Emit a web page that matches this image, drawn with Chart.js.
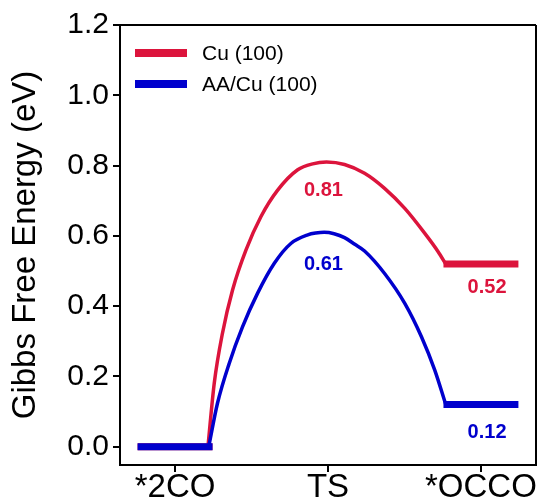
<!DOCTYPE html>
<html>
<head>
<meta charset="utf-8">
<script src="https://cdn.jsdelivr.net/npm/chart.js@4/dist/chart.umd.min.js"></script>
<style>
html,body{margin:0;padding:0;background:#fff;}
#wrap{position:relative;width:543px;height:503px;}
</style>
</head>
<body>
<div id="wrap"><canvas id="c" width="543" height="503"></canvas></div>
<script>
// ---- data ----
const states = ['*2CO', 'TS', '*OCCO'];
const seriesNames = ['Cu (100)', 'AA/Cu (100)'];
const seriesColors = ['#DC143C', '#0000CD'];
const cuLevels = [0, 0.81, 0.52];
const aaLevels = [0, 0.61, 0.12];
// reaction path (x in state units, y in eV)
const cuPathX = [0.215, 0.256, 0.31, 0.376, 0.464, 0.562, 0.671, 0.802, 0.90, 0.99, 1.108, 1.239, 1.37, 1.502, 1.633, 1.72, 1.77];
const cuPathY = [0.00, 0.18, 0.323, 0.446, 0.56, 0.655, 0.73, 0.788, 0.805, 0.81, 0.803, 0.778, 0.735, 0.678, 0.607, 0.555, 0.52];
const aaPathX = [0.22, 0.277, 0.354, 0.441, 0.54, 0.649, 0.759, 0.868, 0.92, 0.975, 1.04, 1.108, 1.175, 1.239, 1.37, 1.502, 1.611, 1.698, 1.77];
const aaPathY = [0.00, 0.123, 0.237, 0.341, 0.437, 0.522, 0.579, 0.603, 0.608, 0.61, 0.606, 0.595, 0.576, 0.557, 0.493, 0.408, 0.313, 0.218, 0.12];
const yTicks = [0.0, 0.2, 0.4, 0.6, 0.8, 1.0, 1.2];
const X_MIN = -0.36, X_MAX = 2.36, Y_MIN = -0.052, Y_MAX = 1.2;
const levelHalf = 0.245;

function pts(xs, ys){ return xs.map((x,i)=>({x:x, y:ys[i]})); }
function levelPts(levels, idx){ return [{x:idx-levelHalf, y:levels[idx]},{x:idx+levelHalf, y:levels[idx]}]; }

const datasets = [];
// blue series listed first so that it is painted on top (Chart.js paints dataset 0 last)
[[aaLevels, aaPathX, aaPathY, 1],[cuLevels, cuPathX, cuPathY, 0]].forEach(([lv, px, py, s])=>{
  datasets.push({data: levelPts(lv,0), borderColor: seriesColors[s], borderWidth: 7, pointRadius: 0, tension: 0, borderCapStyle:'butt'});
  datasets.push({data: levelPts(lv,2), borderColor: seriesColors[s], borderWidth: 7, pointRadius: 0, tension: 0, borderCapStyle:'butt'});
  datasets.push({data: pts(px,py), borderColor: seriesColors[s], borderWidth: 3.5, pointRadius: 0, cubicInterpolationMode: 'monotone'});
});

const FONT = "'Liberation Sans', Arial, Helvetica, sans-serif";

const decor = {
  id: 'decor',
  afterDraw(chart){
    const ctx = chart.ctx;
    const xs = chart.scales.x, ys = chart.scales.y;
    ctx.save();
    // legend
    ctx.font = "21px " + FONT; ctx.textBaseline = 'middle'; ctx.textAlign = 'left';
    seriesNames.forEach((n,i)=>{
      const y = 53 + i*31;
      ctx.fillStyle = seriesColors[i];
      ctx.fillRect(135, y-4, 52, 8);
      ctx.fillStyle = '#000';
      ctx.fillText(n, 202, y+1);
    });
    // value labels
    ctx.font = "bold 20px " + FONT; ctx.textAlign = 'center';
    const offTS = [28, 32], offEnd = [24, 28];
    [[cuLevels,0],[aaLevels,1]].forEach(([lv,s])=>{
      ctx.fillStyle = seriesColors[s];
      ctx.fillText(lv[1].toFixed(2), xs.getPixelForValue(0.97), ys.getPixelForValue(lv[1]) + offTS[s]);
      ctx.fillText(lv[2].toFixed(2), xs.getPixelForValue(2.04), ys.getPixelForValue(lv[2]) + offEnd[s]);
    });
    ctx.restore();
  }
};

new Chart(document.getElementById('c'), {
  type: 'line',
  data: { datasets },
  options: {
    responsive: false,
    animation: false,
    layout: { padding: { top: 25, right: 7, left: 0, bottom: 0 } },
    plugins: { legend: { display: false }, tooltip: { enabled: false } },
    scales: {
      x: {
        type: 'linear', min: X_MIN, max: X_MAX,
        // category ticks plus one extra tick at the right edge whose grid line forms the right frame
        afterBuildTicks: s => { s.ticks = states.map((_,i)=>({value:i})).concat([{value:X_MAX}]); },
        afterFit: s => { s.height = 38; },
        ticks: { callback: v => states[v] ?? '', color:'#000', font:{family:FONT, size:33}, padding: -4, maxRotation:0, autoSkip:false },
        grid: {
          drawOnChartArea: true, drawTicks: true, tickLength: 7, lineWidth: 2,
          color: c => (c.tick && c.tick.value === X_MAX) ? '#000' : 'rgba(0,0,0,0)',
          tickColor: c => (c.tick && c.tick.value === X_MAX) ? 'rgba(0,0,0,0)' : '#000'
        },
        border: { display:true, color:'#000', width:2 }
      },
      y: {
        type: 'linear', min: Y_MIN, max: Y_MAX,
        afterBuildTicks: s => { s.ticks = yTicks.map(v=>({value:v})); },
        afterFit: s => { s.width = 120; },
        ticks: { callback: v => Number(v).toFixed(1), color:'#000', font:{family:FONT, size:30}, padding: 4 },
        grid: {
          drawOnChartArea: true, drawTicks: true, tickLength: 7, lineWidth: 2,
          color: c => (c.tick && c.tick.value === Y_MAX) ? '#000' : 'rgba(0,0,0,0)',
          tickColor: '#000'
        },
        border: { display:true, color:'#000', width:2 },
        title: { display:true, text:'Gibbs Free Energy (eV)', color:'#000', font:{family:FONT, size:33}, padding:{top:6, bottom:0} }
      }
    }
  },
  plugins: [decor]
});
</script>
</body>
</html>
